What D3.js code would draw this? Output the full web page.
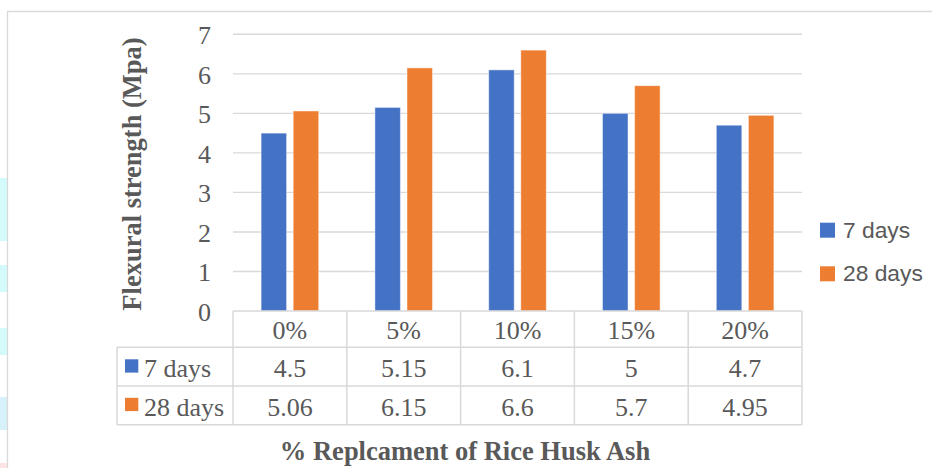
<!DOCTYPE html>
<html>
<head>
<meta charset="utf-8">
<script src="https://cdn.jsdelivr.net/npm/d3@7"></script>
<style>
  html, body { margin: 0; padding: 0; background: #fff; }
  svg { display: block; }
</style>
</head>
<body>
<svg id="chart" width="932" height="468"></svg>
<script>
// ---- data ----
const categories = ["0%", "5%", "10%", "15%", "20%"];
const seriesNames = ["7 days", "28 days"];
const days7 = [4.5, 5.15, 6.1, 5, 4.7];
const days28 = [5.06, 6.15, 6.6, 5.7, 4.95];
const yTicks = [0, 1, 2, 3, 4, 5, 6, 7];
const seriesColors = ["#4472c4", "#ed7d31"];
const yTitle = "Flexural strength (Mpa)";
const xTitle = "% Replcament of Rice Husk Ash";

const series = [days7, days28];

const svg = d3.select("#chart");
const textColor = "#595959";
const gridColor = "#d9d9d9";
const serif = "'Liberation Serif', 'Times New Roman', serif";
const sans = "'Liberation Sans', Arial, sans-serif";

// background artifacts at left edge
const patches = [
  {y: 178, h: 63, c: "#d4fbfb"},
  {y: 265, h: 27, c: "#d4fbfb"},
  {y: 328, h: 27, c: "#d4fbfb"},
  {y: 397, h: 33, c: "#d6f1fa"},
  {y: 463, h: 5, c: "#fde3e3"}
];
svg.selectAll("rect.patch").data(patches).join("rect")
  .attr("x", 0).attr("y", d => d.y).attr("width", 7).attr("height", d => d.h)
  .attr("fill", d => d.c);

// chart frame
svg.append("path")
  .attr("d", "M7.5,468 V11.5 H932")
  .attr("fill", "none").attr("stroke", gridColor).attr("stroke-width", 1.3);

// scales
const plotLeft = 233, plotRight = 802, plotTop = 34.3, plotBottom = 311;
const x = d3.scaleBand().domain(categories).range([plotLeft, plotRight]).padding(0);
const y = d3.scaleLinear().domain([0, 7]).range([plotBottom, plotTop]);

// gridlines
svg.append("g").selectAll("line").data(yTicks.filter(t => t > 0)).join("line")
  .attr("x1", plotLeft).attr("x2", plotRight)
  .attr("y1", d => y(d)).attr("y2", d => y(d))
  .attr("stroke", gridColor).attr("stroke-width", 1.4);

// y axis labels
svg.append("g").selectAll("text").data(yTicks).join("text")
  .attr("x", 211).attr("y", d => y(d) + 10)
  .attr("text-anchor", "end")
  .attr("font-family", serif).attr("font-size", 26).attr("fill", textColor)
  .text(d => d);

// bars
const step = x.bandwidth();
const barW = step * 0.224;
const gap = step * 0.058;
const xs = d3.scaleOrdinal().domain(seriesNames).range([-(barW + gap / 2), gap / 2]);

seriesNames.forEach((name, si) => {
  svg.append("g").selectAll("rect").data(categories).join("rect")
    .attr("x", (c) => x(c) + step / 2 + xs(name))
    .attr("y", (c, i) => y(series[si][i]))
    .attr("width", barW)
    .attr("height", (c, i) => y(0) - y(series[si][i]))
    .attr("fill", seriesColors[si])
    .attr("stroke", "#ffffff").attr("stroke-opacity", 0.45).attr("stroke-width", 1);
});

// data table
const tableLeft = 117;
const rowLines = [311, 347.3, 386, 424.7];
const tbl = svg.append("g").attr("stroke", gridColor).attr("stroke-width", 1.5).attr("fill", "none");
tbl.append("line").attr("x1", plotLeft).attr("x2", plotRight).attr("y1", rowLines[0]).attr("y2", rowLines[0]);
[1, 2, 3].forEach(i => {
  tbl.append("line").attr("x1", tableLeft).attr("x2", plotRight).attr("y1", rowLines[i]).attr("y2", rowLines[i]);
});
tbl.append("line").attr("x1", tableLeft).attr("x2", tableLeft).attr("y1", rowLines[1]).attr("y2", rowLines[3]);
categories.forEach(c => {
  tbl.append("line").attr("x1", x(c)).attr("x2", x(c)).attr("y1", rowLines[0]).attr("y2", rowLines[3]);
});
tbl.append("line").attr("x1", plotRight).attr("x2", plotRight).attr("y1", rowLines[0]).attr("y2", rowLines[3]);

// header row
svg.append("g").selectAll("text").data(categories).join("text")
  .attr("x", c => x(c) + step / 2).attr("y", 339)
  .attr("text-anchor", "middle")
  .attr("font-family", serif).attr("font-size", 26).attr("fill", textColor)
  .text(c => c);

const rowBaselines = [377, 415.5];
seriesNames.forEach((name, si) => {
  svg.append("g").selectAll("text").data(categories).join("text")
    .attr("x", c => x(c) + step / 2).attr("y", rowBaselines[si])
    .attr("text-anchor", "middle")
    .attr("font-family", serif).attr("font-size", 26).attr("fill", textColor)
    .text((c, i) => series[si][i]);
  svg.append("rect")
    .attr("x", 125).attr("y", rowBaselines[si] - 17.7)
    .attr("width", 13.3).attr("height", 13.3)
    .attr("fill", seriesColors[si]);
  svg.append("text")
    .attr("x", 144).attr("y", rowBaselines[si])
    .attr("font-family", serif).attr("font-size", 26).attr("fill", textColor)
    .text(name);
});

// y axis title
svg.append("text")
  .attr("transform", "translate(141," + 174 + ") rotate(-90)")
  .attr("text-anchor", "middle")
  .attr("font-family", serif).attr("font-weight", "bold").attr("font-size", 26.5)
  .attr("fill", textColor)
  .text(yTitle);

// x axis title
svg.append("text")
  .attr("x", 465).attr("y", 460)
  .attr("text-anchor", "middle")
  .attr("font-family", serif).attr("font-weight", "bold").attr("font-size", 26.5)
  .attr("fill", textColor)
  .text(xTitle);

// legend
const legendY = [237.7, 281.3];
seriesNames.forEach((name, si) => {
  svg.append("rect")
    .attr("x", 820).attr("y", legendY[si] - 15)
    .attr("width", 15).attr("height", 15)
    .attr("fill", seriesColors[si]);
  svg.append("text")
    .attr("x", 843).attr("y", legendY[si])
    .attr("font-family", sans).attr("font-size", 22.8).attr("fill", textColor)
    .text(name);
});
</script>
</body>
</html>
